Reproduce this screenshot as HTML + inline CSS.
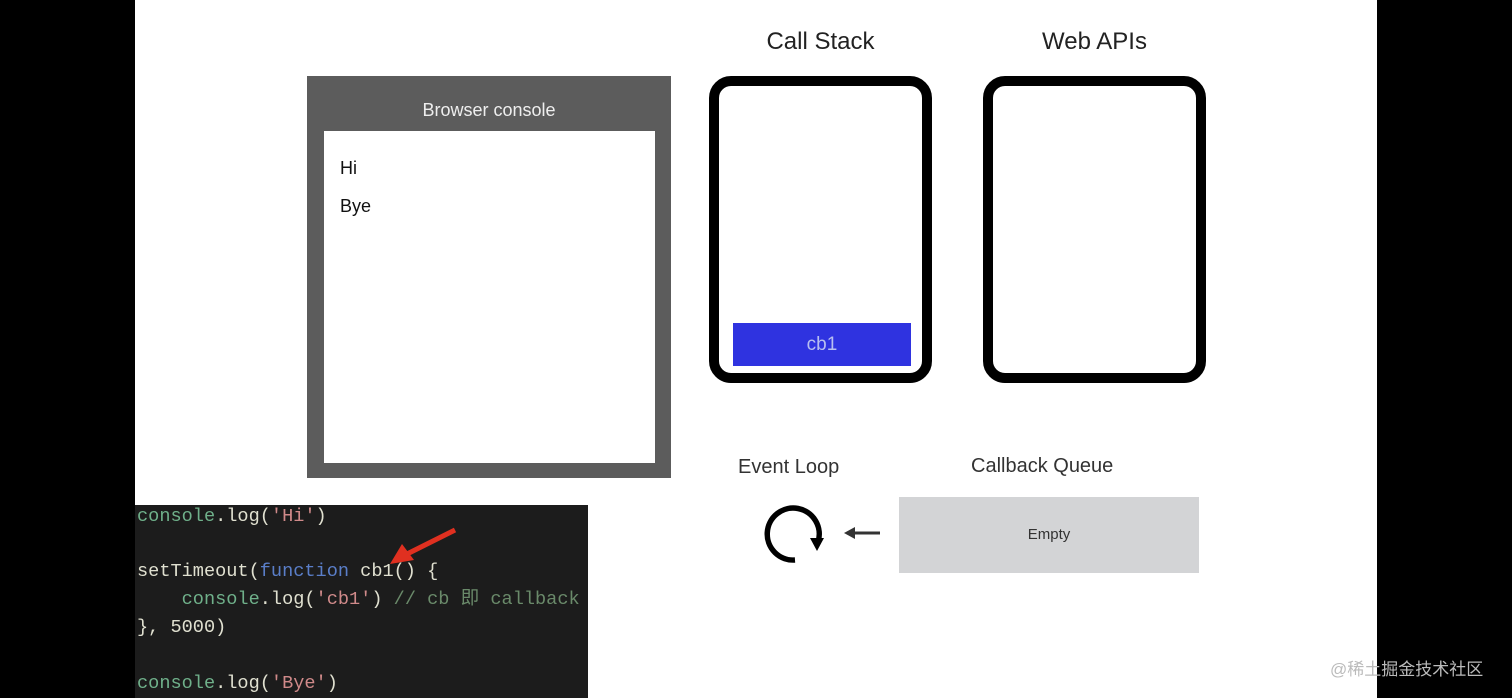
<!DOCTYPE html>
<html><head><style>
body{margin:0;width:1512px;height:698px;background:#000;position:relative;overflow:hidden;font-family:"Liberation Sans",sans-serif}
.a{position:absolute}
.code{font-family:"Liberation Mono","Noto Sans CJK SC",monospace;font-size:18.6px;line-height:22px;height:22px;white-space:pre;color:#c8d0c0;position:absolute;left:137px}
.g{color:#6fb08a}.s{color:#d08a8a}.k{color:#5a7ec8}.c{color:#6a8a6a}.w{color:#e0e0d0}
</style></head><body>
<div class="a" style="left:135px;top:0;width:1242px;height:698px;background:#fff"></div>
<div class="a" style="left:307px;top:76px;width:364px;height:402px;background:#5c5c5c"></div>
<div class="a" style="left:324px;top:131px;width:331px;height:332px;background:#fff"></div>
<div class="a" style="left:307px;top:100px;width:364px;text-align:center;color:#eee;font-size:18px">Browser console</div>
<div class="a" style="left:340px;top:158px;font-size:18px;color:#111">Hi</div>
<div class="a" style="left:340px;top:196px;font-size:18px;color:#111">Bye</div>
<div class="a" style="left:709px;top:28px;width:223px;text-align:center;font-size:24px;color:#222">Call Stack</div>
<div class="a" style="left:983px;top:28px;width:223px;text-align:center;font-size:24px;color:#222">Web APIs</div>
<div class="a" style="left:709px;top:76px;width:203px;height:287px;border:10px solid #000;border-radius:22px"></div>
<div class="a" style="left:983px;top:76px;width:203px;height:287px;border:10px solid #000;border-radius:22px"></div>
<div class="a" style="left:733px;top:323px;width:178px;height:43px;background:#2f33e0;color:#b8bff0;font-size:19px;text-align:center;line-height:43px">cb1</div>
<div class="a" style="left:738px;top:456px;font-size:20px;color:#333">Event Loop</div>
<div class="a" style="left:971px;top:455px;font-size:20px;color:#333">Callback Queue</div>
<div class="a" style="left:899px;top:497px;width:300px;height:76px;background:#d3d4d6;text-align:center;line-height:76px;font-size:15px;color:#333">Empty</div>
<svg class="a" style="left:760px;top:500px" width="130" height="70">
<path d="M35 60 A26 26 0 1 1 58 42" fill="none" stroke="#000" stroke-width="5.5"/>
<polygon points="50,38 64,38 57,51" fill="#000"/>
<line x1="92" y1="33" x2="120" y2="33" stroke="#333" stroke-width="3"/>
<polygon points="84,33 95,27 95,39" fill="#333"/>
</svg>
<div class="a" style="left:135px;top:505px;width:453px;height:193px;background:#1c1c1c"></div>
<div class="code" style="top:506px"><span class="g">console</span><span class="w">.log(</span><span class="s">'Hi'</span><span class="w">)</span></div>
<div class="code" style="top:561px"><span class="w">setTimeout(</span><span class="k">function</span><span class="w"> cb1() {</span></div>
<div class="code" style="top:589px"><span class="g">    console</span><span class="w">.log(</span><span class="s">'cb1'</span><span class="w">) </span><span class="c">// cb 即 callback</span></div>
<div class="code" style="top:617px"><span class="w">}, 5000)</span></div>
<div class="code" style="top:673px"><span class="g">console</span><span class="w">.log(</span><span class="s">'Bye'</span><span class="w">)</span></div>
<svg class="a" style="left:380px;top:520px" width="90" height="50"><line x1="75" y1="10" x2="25" y2="35" stroke="#e03020" stroke-width="5"/><polygon points="10,44 22,24 34,40" fill="#e03020"/></svg>
<div class="a" style="left:1330px;top:655px;font-size:17px;color:#bbb;font-family:'Liberation Sans','Noto Sans CJK SC',sans-serif">@稀土掘金技术社区</div>
</body></html>
